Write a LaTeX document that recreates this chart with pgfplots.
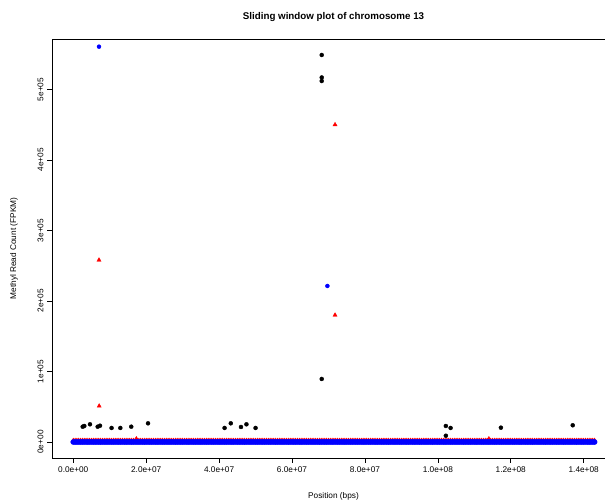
\documentclass[border=0pt]{standalone}
\usepackage{fontspec}
\setmainfont{Liberation Sans}
\usepackage{pgfplots}
\pgfplotsset{compat=1.18}

\begin{document}
\begin{tikzpicture}[x=1bp,y=1bp]
\begin{axis}[
    at={(52bp,44bp)}, anchor=south west,
    scale only axis, width=563bp, height=419bp,
    xmin=-5.84e6, xmax=1.486e8,
    ymin=-22700, ymax=5.716e5,
    axis line style={line width=0.8bp},
    tick align=outside, major tick length=5bp,
    every tick/.style={black, line width=0.6bp},
    xtick pos=bottom, ytick pos=left,
    scaled x ticks=false, scaled y ticks=false,
    xtick={0,2e7,4e7,6e7,8e7,1e8,1.2e8,1.4e8},
    xticklabels={0.0e+00,2.0e+07,4.0e+07,6.0e+07,8.0e+07,1.0e+08,1.2e+08,1.4e+08},
    ytick={0,1e5,2e5,3e5,4e5,5e5},
    yticklabels={0e+00,1e+05,2e+05,3e+05,4e+05,5e+05},
    ticklabel style={font=\fontsize{8.3}{9}\selectfont},
    yticklabel style={rotate=90, anchor=south},
    clip=false,
]
% red band (mostly hidden under the blue one)
\addplot[only marks, red, mark=triangle*, mark size=2.6bp] coordinates {
(0e6,1800) (1e6,1800) (2e6,1800) (3e6,1800) (4e6,1800) (5e6,1800) (6e6,1800) (7e6,1800) (8e6,1800) (9e6,1800) (10e6,1800) (11e6,1800)
(12e6,1800) (13e6,1800) (14e6,1800) (15e6,1800) (16e6,1800) (17e6,1800) (18e6,1800) (19e6,1800) (20e6,1800) (21e6,1800) (22e6,1800) (23e6,1800)
(24e6,1800) (25e6,1800) (26e6,1800) (27e6,1800) (28e6,1800) (29e6,1800) (30e6,1800) (31e6,1800) (32e6,1800) (33e6,1800) (34e6,1800) (35e6,1800)
(36e6,1800) (37e6,1800) (38e6,1800) (39e6,1800) (40e6,1800) (41e6,1800) (42e6,1800) (43e6,1800) (44e6,1800) (45e6,1800) (46e6,1800) (47e6,1800)
(48e6,1800) (49e6,1800) (50e6,1800) (51e6,1800) (52e6,1800) (53e6,1800) (54e6,1800) (55e6,1800) (56e6,1800) (57e6,1800) (58e6,1800) (59e6,1800)
(60e6,1800) (61e6,1800) (62e6,1800) (63e6,1800) (64e6,1800) (65e6,1800) (66e6,1800) (67e6,1800) (68e6,1800) (69e6,1800) (70e6,1800) (71e6,1800)
(72e6,1800) (73e6,1800) (74e6,1800) (75e6,1800) (76e6,1800) (77e6,1800) (78e6,1800) (79e6,1800) (80e6,1800) (81e6,1800) (82e6,1800) (83e6,1800)
(84e6,1800) (85e6,1800) (86e6,1800) (87e6,1800) (88e6,1800) (89e6,1800) (90e6,1800) (91e6,1800) (92e6,1800) (93e6,1800) (94e6,1800) (95e6,1800)
(96e6,1800) (97e6,1800) (98e6,1800) (99e6,1800) (100e6,1800) (101e6,1800) (102e6,1800) (103e6,1800) (104e6,1800) (105e6,1800) (106e6,1800) (107e6,1800)
(108e6,1800) (109e6,1800) (110e6,1800) (111e6,1800) (112e6,1800) (113e6,1800) (114e6,1800) (115e6,1800) (116e6,1800) (117e6,1800) (118e6,1800) (119e6,1800)
(120e6,1800) (121e6,1800) (122e6,1800) (123e6,1800) (124e6,1800) (125e6,1800) (126e6,1800) (127e6,1800) (128e6,1800) (129e6,1800) (130e6,1800) (131e6,1800)
(132e6,1800) (133e6,1800) (134e6,1800) (135e6,1800) (136e6,1800) (137e6,1800) (138e6,1800) (139e6,1800) (140e6,1800) (141e6,1800) (142e6,1800) (143e6,1800)
(0.5e6,1800) (1.5e6,1800) (2.5e6,1800) (3.5e6,1800) (4.5e6,1800) (5.5e6,1800) (6.5e6,1800) (7.5e6,1800) (8.5e6,1800) (9.5e6,1800) (10.5e6,1800) (11.5e6,1800)
(12.5e6,1800) (13.5e6,1800) (14.5e6,1800) (15.5e6,1800) (16.5e6,1800) (17.5e6,1800) (18.5e6,1800) (19.5e6,1800) (20.5e6,1800) (21.5e6,1800) (22.5e6,1800) (23.5e6,1800)
(24.5e6,1800) (25.5e6,1800) (26.5e6,1800) (27.5e6,1800) (28.5e6,1800) (29.5e6,1800) (30.5e6,1800) (31.5e6,1800) (32.5e6,1800) (33.5e6,1800) (34.5e6,1800) (35.5e6,1800)
(36.5e6,1800) (37.5e6,1800) (38.5e6,1800) (39.5e6,1800) (40.5e6,1800) (41.5e6,1800) (42.5e6,1800) (43.5e6,1800) (44.5e6,1800) (45.5e6,1800) (46.5e6,1800) (47.5e6,1800)
(48.5e6,1800) (49.5e6,1800) (50.5e6,1800) (51.5e6,1800) (52.5e6,1800) (53.5e6,1800) (54.5e6,1800) (55.5e6,1800) (56.5e6,1800) (57.5e6,1800) (58.5e6,1800) (59.5e6,1800)
(60.5e6,1800) (61.5e6,1800) (62.5e6,1800) (63.5e6,1800) (64.5e6,1800) (65.5e6,1800) (66.5e6,1800) (67.5e6,1800) (68.5e6,1800) (69.5e6,1800) (70.5e6,1800) (71.5e6,1800)
(72.5e6,1800) (73.5e6,1800) (74.5e6,1800) (75.5e6,1800) (76.5e6,1800) (77.5e6,1800) (78.5e6,1800) (79.5e6,1800) (80.5e6,1800) (81.5e6,1800) (82.5e6,1800) (83.5e6,1800)
(84.5e6,1800) (85.5e6,1800) (86.5e6,1800) (87.5e6,1800) (88.5e6,1800) (89.5e6,1800) (90.5e6,1800) (91.5e6,1800) (92.5e6,1800) (93.5e6,1800) (94.5e6,1800) (95.5e6,1800)
(96.5e6,1800) (97.5e6,1800) (98.5e6,1800) (99.5e6,1800) (100.5e6,1800) (101.5e6,1800) (102.5e6,1800) (103.5e6,1800) (104.5e6,1800) (105.5e6,1800) (106.5e6,1800) (107.5e6,1800)
(108.5e6,1800) (109.5e6,1800) (110.5e6,1800) (111.5e6,1800) (112.5e6,1800) (113.5e6,1800) (114.5e6,1800) (115.5e6,1800) (116.5e6,1800) (117.5e6,1800) (118.5e6,1800) (119.5e6,1800)
(120.5e6,1800) (121.5e6,1800) (122.5e6,1800) (123.5e6,1800) (124.5e6,1800) (125.5e6,1800) (126.5e6,1800) (127.5e6,1800) (128.5e6,1800) (129.5e6,1800) (130.5e6,1800) (131.5e6,1800)
(132.5e6,1800) (133.5e6,1800) (134.5e6,1800) (135.5e6,1800) (136.5e6,1800) (137.5e6,1800) (138.5e6,1800) (139.5e6,1800) (140.5e6,1800) (141.5e6,1800) (142.5e6,1800)
(17.3e6,4200) (114e6,4200)
};
% blue band
\addplot[only marks, blue, mark=*, mark size=2.6bp] coordinates {
(0e6,0) (1e6,0) (2e6,0) (3e6,0) (4e6,0) (5e6,0) (6e6,0) (7e6,0) (8e6,0) (9e6,0) (10e6,0) (11e6,0)
(12e6,0) (13e6,0) (14e6,0) (15e6,0) (16e6,0) (17e6,0) (18e6,0) (19e6,0) (20e6,0) (21e6,0) (22e6,0) (23e6,0)
(24e6,0) (25e6,0) (26e6,0) (27e6,0) (28e6,0) (29e6,0) (30e6,0) (31e6,0) (32e6,0) (33e6,0) (34e6,0) (35e6,0)
(36e6,0) (37e6,0) (38e6,0) (39e6,0) (40e6,0) (41e6,0) (42e6,0) (43e6,0) (44e6,0) (45e6,0) (46e6,0) (47e6,0)
(48e6,0) (49e6,0) (50e6,0) (51e6,0) (52e6,0) (53e6,0) (54e6,0) (55e6,0) (56e6,0) (57e6,0) (58e6,0) (59e6,0)
(60e6,0) (61e6,0) (62e6,0) (63e6,0) (64e6,0) (65e6,0) (66e6,0) (67e6,0) (68e6,0) (69e6,0) (70e6,0) (71e6,0)
(72e6,0) (73e6,0) (74e6,0) (75e6,0) (76e6,0) (77e6,0) (78e6,0) (79e6,0) (80e6,0) (81e6,0) (82e6,0) (83e6,0)
(84e6,0) (85e6,0) (86e6,0) (87e6,0) (88e6,0) (89e6,0) (90e6,0) (91e6,0) (92e6,0) (93e6,0) (94e6,0) (95e6,0)
(96e6,0) (97e6,0) (98e6,0) (99e6,0) (100e6,0) (101e6,0) (102e6,0) (103e6,0) (104e6,0) (105e6,0) (106e6,0) (107e6,0)
(108e6,0) (109e6,0) (110e6,0) (111e6,0) (112e6,0) (113e6,0) (114e6,0) (115e6,0) (116e6,0) (117e6,0) (118e6,0) (119e6,0)
(120e6,0) (121e6,0) (122e6,0) (123e6,0) (124e6,0) (125e6,0) (126e6,0) (127e6,0) (128e6,0) (129e6,0) (130e6,0) (131e6,0)
(132e6,0) (133e6,0) (134e6,0) (135e6,0) (136e6,0) (137e6,0) (138e6,0) (139e6,0) (140e6,0) (141e6,0) (142e6,0) (143e6,0)
(0.5e6,0) (1.5e6,0) (2.5e6,0) (3.5e6,0) (4.5e6,0) (5.5e6,0) (6.5e6,0) (7.5e6,0) (8.5e6,0) (9.5e6,0) (10.5e6,0) (11.5e6,0)
(12.5e6,0) (13.5e6,0) (14.5e6,0) (15.5e6,0) (16.5e6,0) (17.5e6,0) (18.5e6,0) (19.5e6,0) (20.5e6,0) (21.5e6,0) (22.5e6,0) (23.5e6,0)
(24.5e6,0) (25.5e6,0) (26.5e6,0) (27.5e6,0) (28.5e6,0) (29.5e6,0) (30.5e6,0) (31.5e6,0) (32.5e6,0) (33.5e6,0) (34.5e6,0) (35.5e6,0)
(36.5e6,0) (37.5e6,0) (38.5e6,0) (39.5e6,0) (40.5e6,0) (41.5e6,0) (42.5e6,0) (43.5e6,0) (44.5e6,0) (45.5e6,0) (46.5e6,0) (47.5e6,0)
(48.5e6,0) (49.5e6,0) (50.5e6,0) (51.5e6,0) (52.5e6,0) (53.5e6,0) (54.5e6,0) (55.5e6,0) (56.5e6,0) (57.5e6,0) (58.5e6,0) (59.5e6,0)
(60.5e6,0) (61.5e6,0) (62.5e6,0) (63.5e6,0) (64.5e6,0) (65.5e6,0) (66.5e6,0) (67.5e6,0) (68.5e6,0) (69.5e6,0) (70.5e6,0) (71.5e6,0)
(72.5e6,0) (73.5e6,0) (74.5e6,0) (75.5e6,0) (76.5e6,0) (77.5e6,0) (78.5e6,0) (79.5e6,0) (80.5e6,0) (81.5e6,0) (82.5e6,0) (83.5e6,0)
(84.5e6,0) (85.5e6,0) (86.5e6,0) (87.5e6,0) (88.5e6,0) (89.5e6,0) (90.5e6,0) (91.5e6,0) (92.5e6,0) (93.5e6,0) (94.5e6,0) (95.5e6,0)
(96.5e6,0) (97.5e6,0) (98.5e6,0) (99.5e6,0) (100.5e6,0) (101.5e6,0) (102.5e6,0) (103.5e6,0) (104.5e6,0) (105.5e6,0) (106.5e6,0) (107.5e6,0)
(108.5e6,0) (109.5e6,0) (110.5e6,0) (111.5e6,0) (112.5e6,0) (113.5e6,0) (114.5e6,0) (115.5e6,0) (116.5e6,0) (117.5e6,0) (118.5e6,0) (119.5e6,0)
(120.5e6,0) (121.5e6,0) (122.5e6,0) (123.5e6,0) (124.5e6,0) (125.5e6,0) (126.5e6,0) (127.5e6,0) (128.5e6,0) (129.5e6,0) (130.5e6,0) (131.5e6,0)
(132.5e6,0) (133.5e6,0) (134.5e6,0) (135.5e6,0) (136.5e6,0) (137.5e6,0) (138.5e6,0) (139.5e6,0) (140.5e6,0) (141.5e6,0) (142.5e6,0)
};
% black outliers
\addplot[only marks, black, mark=*, mark size=2bp] coordinates {
(2.58e6,21700) (3.02e6,22700) (4.58e6,25100) (6.69e6,21700) (7.33e6,23100)
(10.5e6,19900) (12.9e6,19900) (15.9e6,21700) (20.5e6,26500)
(41.5e6,19900) (43.2e6,26500) (46.0e6,21300) (47.5e6,25100) (50.0e6,19900)
(102.2e6,22700) (103.5e6,19900) (102.2e6,8900) (117.3e6,20300) (137.0e6,23700)
(68.15e6,89400) (68.15e6,512000) (68.15e6,517000) (68.15e6,548900)
};
% red outliers
\addplot[only marks, red, mark=triangle*, mark size=2.4bp] coordinates {
(7.1e6,51000) (7.05e6,258000) (71.8e6,180000) (71.8e6,450000)
};
% blue outliers
\addplot[only marks, blue, mark=*, mark size=2bp] coordinates {
(7.05e6,560700) (69.7e6,221300)
};
\end{axis}
\node[font=\bfseries\fontsize{9.8}{11}\selectfont] at (333.5,485) {Sliding window plot of chromosome 13};
\node[font=\fontsize{8.3}{9}\selectfont] at (333.5,6) {Position (bps)};
\node[font=\fontsize{8.3}{9}\selectfont, rotate=90] at (14,253.5) {Methyl Read Count (FPKM)};
\pgfresetboundingbox
\useasboundingbox (0,0) rectangle (605,502);
\end{tikzpicture}
\end{document}
